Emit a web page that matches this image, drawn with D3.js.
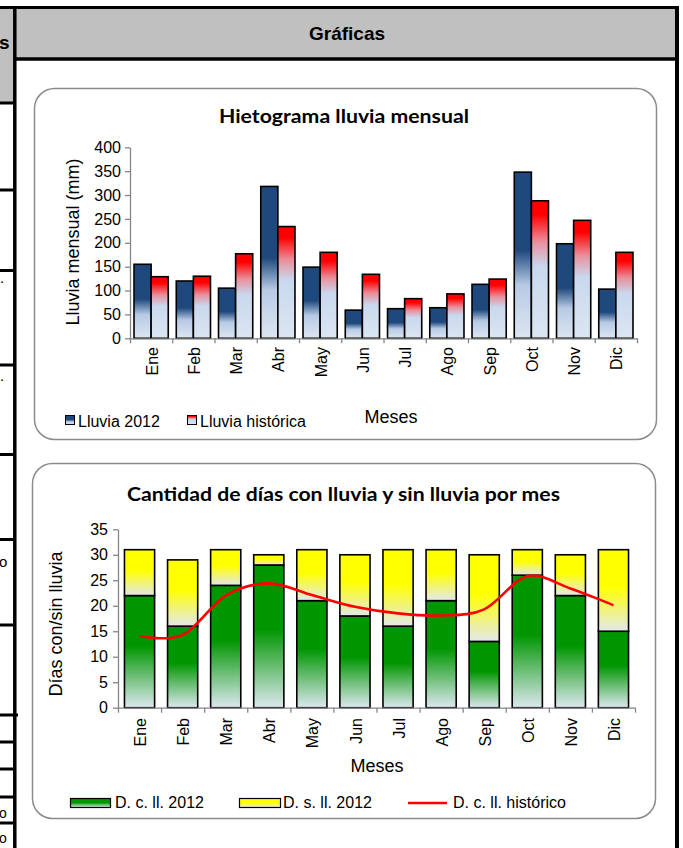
<!DOCTYPE html>
<html><head><meta charset="utf-8">
<script src="https://cdn.jsdelivr.net/npm/d3@7"></script>
<style>
body{margin:0;background:#fff}
svg{display:block}
text{font-family:"Liberation Sans",Arial,sans-serif;fill:#000}
.ttl{font-family:Lato,"Open Sans",sans-serif;font-weight:bold}
</style></head>
<body><svg id="c" width="683" height="848"></svg>
<script>
// ---- data ----
const months = ["Ene","Feb","Mar","Abr","May","Jun","Jul","Ago","Sep","Oct","Nov","Dic"];
const lluvia2012 = [155,120,105,318,149,59,62,64,113,348,198,103];
const lluviaHistorica = [129,130,177,234,180,134,83,93,124,288,247,180];
const yTicks1 = [0,50,100,150,200,250,300,350,400];
const diasConLluvia2012 = [22,16,24,28,21,18,16,21,13,26,22,15];
const diasSinLluvia2012 = [9,13,7,2,10,12,15,10,17,5,8,16];
const diasConLluviaHistorico = [14,14.3,22,24.4,22.1,19.8,18.5,18.1,19.3,25.8,23.4,20.1];
const yTicks2 = [0,5,10,15,20,25,30,35];

const svg = d3.select("#c");
const defs = svg.append("defs");
function grad(id, stops){
  const g = defs.append("linearGradient").attr("id",id).attr("x1",0).attr("y1",0).attr("x2",0).attr("y2",1);
  stops.forEach(s=>g.append("stop").attr("offset",s[0]).attr("stop-color",s[1]));
}
grad("gBlue",[[0,"#1F497D"],[0.47,"#1F497D"],[0.68,"#B7CAE4"],[1,"#DCE6F2"]]);
grad("gRed",[[0,"#FF0000"],[0.1,"#FF0000"],[0.3,"#E9909E"],[0.48,"#C9D8EE"],[1,"#DCE6F2"]]);
grad("gGreen",[[0,"#009600"],[0.45,"#009600"],[1,"#DDE8F0"]]);
grad("gYellow",[[0,"#FFFF00"],[0.45,"#FFFF00"],[1,"#E3E8EC"]]);

// ---- page frame ----
svg.append("rect").attr("x",15).attr("y",8).attr("width",661).attr("height",50).attr("fill","#C0C0C0");
svg.append("rect").attr("x",0).attr("y",8).attr("width",14).attr("height",95).attr("fill","#C0C0C0");
function ln(x1,y1,x2,y2,w){svg.append("line").attr("x1",x1).attr("y1",y1).attr("x2",x2).attr("y2",y2).attr("stroke","#000").attr("stroke-width",w);}
ln(0,7.5,679,7.5,3);
ln(14,59,679,59,3.5);
[103,190,270.5,365,454.5,539.5,625,742,769,797,823].forEach(y=>ln(0,y,15,y,3));
ln(0,715,18,715,3);
ln(14.8,6,14.8,848,3.5);
ln(677,6,677,848,4);
svg.append("text").attr("x",347).attr("y",40).attr("text-anchor","middle").style("font-weight","bold").style("font-size","19px").text("Gráficas");
svg.append("text").attr("x",-1).attr("y",49).style("font-weight","bold").style("font-size","19px").text("s");
svg.append("text").attr("x",0).attr("y",283).style("font-size","15px").text(".");
svg.append("text").attr("x",0).attr("y",381).style("font-size","15px").text(".");
svg.append("text").attr("x",-1).attr("y",567).style("font-size","15px").text("o");
svg.append("text").attr("x",-1).attr("y",818).style("font-size","14px").text("o");
svg.append("text").attr("x",-1).attr("y",843).style("font-size","14px").text("o");

function styleAxis(g){
  g.selectAll(".domain").attr("stroke","#868686").attr("stroke-width",1.3);
  g.selectAll(".tick line").attr("stroke","#868686").attr("stroke-width",1.3);
  g.selectAll("text").style("font-size","16px").style("font-family","'Liberation Sans',Arial,sans-serif").attr("fill","#000");
}

// ---- chart 1 ----
svg.append("rect").attr("x",34.5).attr("y",88.5).attr("width",622).attr("height",351).attr("rx",20)
  .attr("fill","#fff").attr("stroke","#8C8C8C").attr("stroke-width",1.5);
svg.append("text").attr("class","ttl").attr("x",344).attr("y",123).attr("text-anchor","middle")
  .style("font-size","18px").attr("textLength",250).attr("lengthAdjust","spacingAndGlyphs").text("Hietograma lluvia mensual");

const x1 = d3.scaleBand().domain(months).range([130,637]).paddingInner(0.19).paddingOuter(0.095);
const xs1 = d3.scaleBand().domain(["a","b"]).range([0,x1.bandwidth()]);
const y1 = d3.scaleLinear().domain([0,400]).range([338.3,147.3]);
const xb1 = d3.scaleLinear().domain([0,12]).range([130,637]);

const bars1 = svg.append("g");
bars1.selectAll("rect.a").data(months).join("rect").attr("class","a")
  .attr("x",(m)=>x1(m)+xs1("a")).attr("width",xs1.bandwidth())
  .attr("y",(m,i)=>y1(lluvia2012[i])).attr("height",(m,i)=>y1(0)-y1(lluvia2012[i]))
  .attr("fill","url(#gBlue)").attr("stroke","#000").attr("stroke-width",1.6);
bars1.selectAll("rect.b").data(months).join("rect").attr("class","b")
  .attr("x",(m)=>x1(m)+xs1("b")).attr("width",xs1.bandwidth())
  .attr("y",(m,i)=>y1(lluviaHistorica[i])).attr("height",(m,i)=>y1(0)-y1(lluviaHistorica[i]))
  .attr("fill","url(#gRed)").attr("stroke","#000").attr("stroke-width",1.6);

const ya1 = svg.append("g").attr("transform","translate(130,0)")
  .call(d3.axisLeft(y1).tickValues(yTicks1).tickSize(5).tickSizeOuter(0).tickPadding(4));
styleAxis(ya1);
const xa1 = svg.append("g").attr("transform",`translate(0,${y1(0)})`)
  .call(d3.axisBottom(xb1).tickValues(d3.range(13)).tickFormat("").tickSize(5).tickSizeOuter(0));
styleAxis(xa1);
svg.append("g").selectAll("text").data(months).join("text")
  .attr("transform",m=>`translate(${x1(m)+x1.bandwidth()/2+1},347) rotate(-90)`)
  .attr("text-anchor","end").attr("dy","0.35em").style("font-size","16px").text(m=>m);

svg.append("text").attr("transform","translate(73,242) rotate(-90)").attr("text-anchor","middle").attr("dy","0.35em")
  .style("font-size","18px").text("Lluvia mensual (mm)");
svg.append("text").attr("x",391).attr("y",423).attr("text-anchor","middle").style("font-size","18px").text("Meses");
svg.append("rect").attr("x",65.5).attr("y",415.5).attr("width",9).attr("height",9).attr("fill","url(#gBlue)").attr("stroke","#000").attr("stroke-width",1);
svg.append("text").attr("x",78).attr("y",427).style("font-size","16px").text("Lluvia 2012");
svg.append("rect").attr("x",187.5).attr("y",415.5).attr("width",9).attr("height",9).attr("fill","url(#gRed)").attr("stroke","#000").attr("stroke-width",1);
svg.append("text").attr("x",200).attr("y",427).style("font-size","16px").text("Lluvia histórica");

// ---- chart 2 ----
svg.append("rect").attr("x",32.5).attr("y",463.5).attr("width",623).attr("height",355).attr("rx",20)
  .attr("fill","#fff").attr("stroke","#8C8C8C").attr("stroke-width",1.5);
svg.append("text").attr("class","ttl").attr("x",343.5).attr("y",501).attr("text-anchor","middle")
  .style("font-size","18px").attr("textLength",433).attr("lengthAdjust","spacingAndGlyphs").text("Cantidad de días con lluvia y sin lluvia por mes");

const x2 = d3.scaleBand().domain(months).range([118,635]).paddingInner(0.3).paddingOuter(0.15);
const y2 = d3.scaleLinear().domain([0,35]).range([707.7,529.3]);
const xb2 = d3.scaleLinear().domain([0,12]).range([118,635]);
const stackData = months.map((m,i)=>({m, con:diasConLluvia2012[i], sin:diasSinLluvia2012[i]}));
const series = d3.stack().keys(["con","sin"])(stackData);
const fills = {con:"url(#gGreen)", sin:"url(#gYellow)"};
svg.append("g").selectAll("g").data(series).join("g").attr("fill",s=>fills[s.key])
  .selectAll("rect").data(s=>s).join("rect")
  .attr("x",d=>x2(d.data.m)).attr("width",x2.bandwidth())
  .attr("y",d=>y2(d[1])).attr("height",d=>y2(d[0])-y2(d[1]))
  .attr("stroke","#000").attr("stroke-width",1.6);

const ya2 = svg.append("g").attr("transform","translate(118,0)")
  .call(d3.axisLeft(y2).tickValues(yTicks2).tickSize(5).tickSizeOuter(0).tickPadding(5));
styleAxis(ya2);
const xa2 = svg.append("g").attr("transform",`translate(0,${y2(0)})`)
  .call(d3.axisBottom(xb2).tickValues(d3.range(13)).tickFormat("").tickSize(5).tickSizeOuter(0));
styleAxis(xa2);
svg.append("g").selectAll("text").data(months).join("text")
  .attr("transform",m=>`translate(${x2(m)+x2.bandwidth()/2+1},718) rotate(-90)`)
  .attr("text-anchor","end").attr("dy","0.35em").style("font-size","16px").text(m=>m);

const line = d3.line().x((v,i)=>x2(months[i])+x2.bandwidth()/2).y(v=>y2(v)).curve(d3.curveCatmullRom.alpha(0));
svg.append("path").attr("d",line(diasConLluviaHistorico)).attr("fill","none").attr("stroke","#FF0000").attr("stroke-width",2.6);

svg.append("text").attr("transform","translate(56,624) rotate(-90)").attr("text-anchor","middle").attr("dy","0.35em")
  .style("font-size","18px").text("Días con/sin lluvia");
svg.append("text").attr("x",377).attr("y",772).attr("text-anchor","middle").style("font-size","18px").text("Meses");
svg.append("rect").attr("x",70.5).attr("y",798.5).attr("width",40).attr("height",9).attr("fill","url(#gGreen)").attr("stroke","#000").attr("stroke-width",1.2);
svg.append("text").attr("x",115).attr("y",808).style("font-size","16px").text("D. c. ll. 2012");
svg.append("rect").attr("x",239.5).attr("y",798.5).attr("width",41).attr("height",9).attr("fill","url(#gYellow)").attr("stroke","#000").attr("stroke-width",1.2);
svg.append("text").attr("x",283).attr("y",808).style("font-size","16px").text("D. s. ll. 2012");
svg.append("line").attr("x1",408).attr("x2",447).attr("y1",803).attr("y2",803).attr("stroke","#FF0000").attr("stroke-width",2.6);
svg.append("text").attr("x",453).attr("y",808).style("font-size","16px").text("D. c. ll. histórico");
</script></body></html>
